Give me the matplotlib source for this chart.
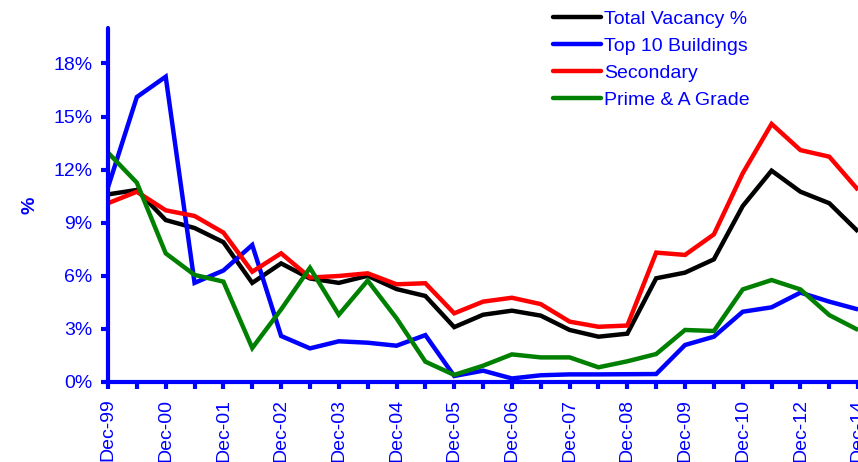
import matplotlib
matplotlib.use("Agg")
import matplotlib.pyplot as plt
from matplotlib.ticker import FixedLocator, FuncFormatter

plt.rcParams['font.family'] = ['Liberation Sans', 'DejaVu Sans']

# Half-yearly periods to Dec-10, then annual
periods = ["Dec-99", "Jun-00", "Dec-00", "Jun-01", "Dec-01", "Jun-02", "Dec-02",
           "Jun-03", "Dec-03", "Jun-04", "Dec-04", "Jun-05", "Dec-05", "Jun-06",
           "Dec-06", "Jun-07", "Dec-07", "Jun-08", "Dec-08", "Jun-09", "Dec-09",
           "Jun-10", "Dec-10", "Dec-11", "Dec-12", "Dec-13", "Dec-14"]

total_vacancy = [10.6, 10.85, 9.15, 8.7, 7.9, 5.6, 6.7, 5.85, 5.6, 6.0, 5.25, 4.86, 3.1,
                 3.8, 4.03, 3.75, 2.94, 2.56, 2.73, 5.86, 6.18, 6.93, 9.94, 11.94,
                 10.75, 10.1, 8.5]
top10_buildings = [11.0, 16.1, 17.25, 5.6, 6.3, 7.74, 2.6, 1.9, 2.3, 2.22, 2.05, 2.65,
                   0.34, 0.64, 0.2, 0.38, 0.43, 0.43, 0.44, 0.45, 2.09, 2.56, 3.97,
                   4.22, 5.05, 4.54, 4.1]
secondary = [10.1, 10.75, 9.7, 9.38, 8.44, 6.23, 7.27, 5.9, 5.99, 6.14, 5.52, 5.58,
             3.88, 4.54, 4.76, 4.4, 3.41, 3.12, 3.19, 7.31, 7.18, 8.34, 11.79, 14.58,
             13.1, 12.73, 10.85]
prime_a_grade = [12.96, 11.26, 7.27, 6.05, 5.67, 1.92, 4.1, 6.45, 3.8, 5.73, 3.6, 1.15,
                 0.4, 0.92, 1.56, 1.39, 1.39, 0.83, 1.17, 1.58, 2.94, 2.88, 5.23, 5.76,
                 5.23, 3.78, 2.94]

series = [
    ("Total Vacancy %", total_vacancy, "#000000"),
    ("Top 10 Buildings", top10_buildings, "#0000FF"),
    ("Secondary", secondary, "#FF0000"),
    ("Prime & A Grade", prime_a_grade, "#008000"),
]

BLUE = "#0000FF"
FS = 14

fig = plt.figure(figsize=(8.58, 4.62), dpi=100)
ax = fig.add_axes([108 / 858, 80 / 462, 751 / 858, 354 / 462])

x = list(range(len(periods)))
for name, vals, col in series:
    ax.plot(x, vals, color=col, lw=3.2, label=name, solid_joinstyle="miter",
            solid_capstyle="butt")

ax.set_xlim(0, 26.03)
ax.set_ylim(0, 20)

for side in ("top", "right"):
    ax.spines[side].set_visible(False)
for side in ("left", "bottom"):
    ax.spines[side].set_color(BLUE)
    ax.spines[side].set_linewidth(3.0)
    ax.spines[side].set_capstyle("round")

ax.xaxis.set_major_locator(FixedLocator(x))
ax.set_xticklabels([p if i % 2 == 0 else "" for i, p in enumerate(periods)],
                   rotation=90, color=BLUE, fontsize=FS, va="top", ha="center")
ax.yaxis.set_major_locator(FixedLocator([0, 3, 6, 9, 12, 15, 18]))
ax.yaxis.set_major_formatter(FuncFormatter(lambda v, _: f"{v:.0f}%"))
ax.tick_params(axis="both", colors=BLUE, width=3.0, length=5, direction="out",
               labelsize=FS, labelcolor=BLUE)
ax.tick_params(axis="x", pad=7)
ax.tick_params(axis="y", pad=6)
for t in ax.xaxis.get_ticklines() + ax.yaxis.get_ticklines():
    t.set_solid_capstyle("round")

ax.set_ylabel("%", color=BLUE, fontsize=FS, fontweight="bold", labelpad=11)

leg = fig.legend(loc="upper left", bbox_to_anchor=(539 / 858, 1 + 3 / 462),
                 frameon=False, fontsize=FS, handlelength=2.5, handletextpad=0.15,
                 labelspacing=0.48, borderpad=0.2)
for txt in leg.get_texts():
    txt.set_color(BLUE)
for ln in leg.get_lines():
    ln.set_linewidth(3.2)
    ln.set_solid_capstyle("round")

fig.savefig("out.png", dpi=100)
